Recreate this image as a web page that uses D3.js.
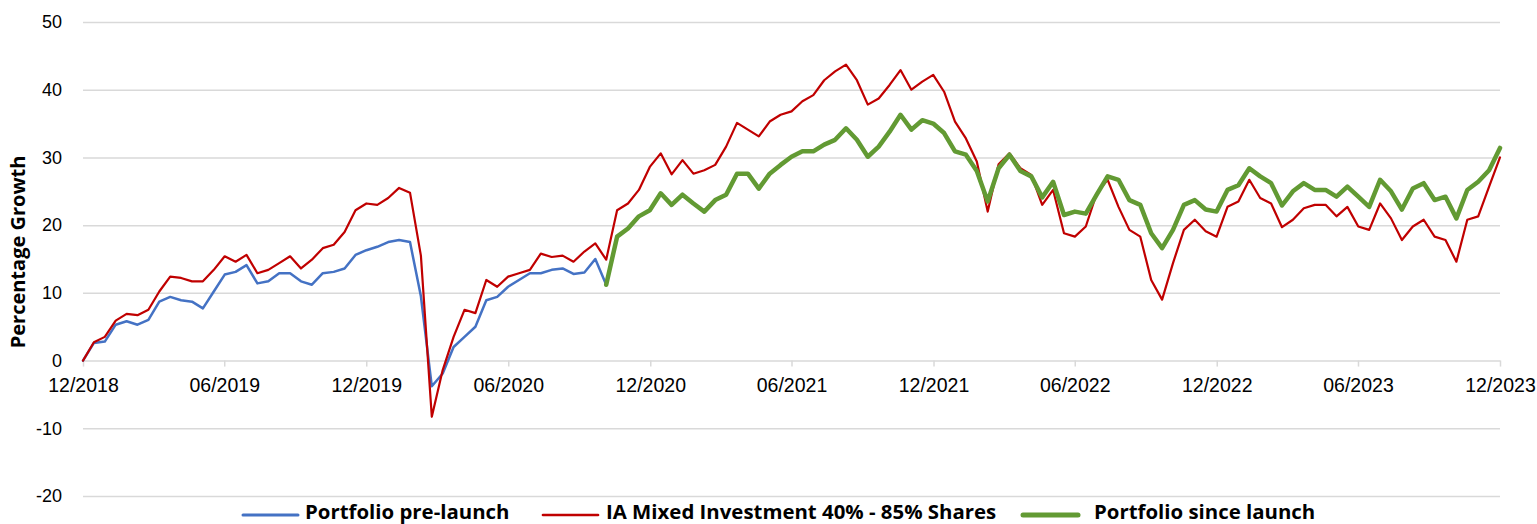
<!DOCTYPE html>
<html lang="en">
<head>
<meta charset="UTF-8">
<title>Percentage Growth</title>
<script src="https://d3js.org/d3.v7.min.js"></script>
<style>
  body { margin: 0; background: #fff; font-family: "Open Sans", sans-serif; }
  .grid line { stroke: #d9d9d9; stroke-width: 1.5; }
  .axis text { font-size: 18px; fill: #000; }
  .x-axis text { font-size: 19.5px; }
  .x-axis path, .x-axis line { stroke: #d9d9d9; stroke-width: 1.5; }
  .legend text { font-size: 20.4px; font-weight: bold; }
</style>
</head>
<body>
<svg id="chart" width="1537" height="524"></svg>
<script>
// x tick labels (every 6 months)
const xTickLabels = ["12/2018", "06/2019", "12/2019", "06/2020", "12/2020", "06/2021",
                     "12/2021", "06/2022", "12/2022", "06/2023", "12/2023"];
const yTicks = [-20, -10, 0, 10, 20, 30, 40, 50];

// fortnightly readings, 12/2018 -> 12/2023 (131 points)
const sectorValues = [
  0, 2.7, 3.5, 5.9, 6.9, 6.7, 7.5, 10.2, 12.4, 12.2,
  11.7, 11.7, 13.4, 15.4, 14.6, 15.6, 12.9, 13.4, 14.4, 15.4,
  13.6, 14.9, 16.6, 17.1, 19.0, 22.2, 23.2, 23.0, 24.0, 25.5,
  24.8, 15.5, -8.3, -1.4, 3.5, 7.5, 7.0, 11.9, 10.9, 12.4,
  12.9, 13.4, 15.8, 15.3, 15.5, 14.6, 16.1, 17.3, 14.9, 22.2,
  23.2, 25.2, 28.6, 30.6, 27.5, 29.6, 27.6, 28.1, 28.9, 31.6,
  35.1, 34.1, 33.1, 35.3, 36.3, 36.8, 38.3, 39.2, 41.4, 42.7,
  43.7, 41.4, 37.8, 38.7, 40.7, 42.9, 40.0, 41.2, 42.2, 39.7,
  35.3, 32.8, 29.4, 22.0, 29.0, 30.6, 28.4, 27.4, 23.0, 25.2,
  18.8, 18.3, 19.8, 24.7, 26.7, 22.7, 19.3, 18.3, 11.9, 9.0,
  14.4, 19.3, 20.8, 19.1, 18.3, 22.7, 23.5, 26.7, 24.0, 23.2,
  19.7, 20.8, 22.5, 23.0, 23.0, 21.3, 22.7, 19.8, 19.3, 23.2,
  21.0, 17.8, 19.8, 20.8, 18.3, 17.8, 14.6, 20.8, 21.3, 25.7,
  30.0
];

// portfolio before launch (points 0..48)
const preLaunchValues = [
  0, 2.6, 2.8, 5.3, 5.8, 5.3, 6.0, 8.7, 9.4, 8.9,
  8.7, 7.7, 10.2, 12.7, 13.1, 14.1, 11.4, 11.7, 12.9, 12.9,
  11.7, 11.2, 12.9, 13.1, 13.6, 15.6, 16.3, 16.8, 17.5, 17.8,
  17.5, 9.5, -3.8, -1.9, 2.0, 3.5, 5.0, 8.9, 9.4, 10.9,
  11.9, 12.9, 12.9, 13.4, 13.6, 12.8, 13.0, 15.0, 11.2
];

// portfolio since launch (points 48..130)
const launchIndex = 48;
const sinceLaunchValues = [
  11.2, 18.3, 19.5, 21.3, 22.2, 24.7, 23.0, 24.5, 23.2, 22.0,
  23.7, 24.5, 27.6, 27.6, 25.4, 27.6, 28.9, 30.1, 30.9, 30.9,
  31.9, 32.6, 34.3, 32.6, 30.1, 31.6, 33.8, 36.3, 34.1, 35.5,
  35.0, 33.6, 30.9, 30.4, 28.0, 23.5, 28.4, 30.4, 28.0, 27.2,
  24.1, 26.4, 21.5, 22.0, 21.7, 24.5, 27.2, 26.7, 23.7, 23.0,
  18.8, 16.6, 19.3, 23.0, 23.7, 22.3, 22.0, 25.2, 25.9, 28.4,
  27.2, 26.2, 22.9, 25.0, 26.2, 25.2, 25.2, 24.2, 25.7, 24.2,
  22.7, 26.7, 25.0, 22.3, 25.4, 26.2, 23.7, 24.2, 21.0, 25.2,
  26.4, 28.1, 31.4
];

const seriesNames = ["Portfolio pre-launch", "IA Mixed Investment 40% - 85% Shares", "Portfolio since launch"];
const seriesColors = ["#4472c4", "#c00000", "#629a33"];
const seriesWidths = [2.5, 2.2, 4.5];

// dates
const start = new Date(2018, 11, 1), end = new Date(2023, 11, 1);
const n = sectorValues.length;
const dateAt = i => new Date(start.getTime() + i * (end - start) / (n - 1));
const parseTick = d3.timeParse("%m/%Y");

// layout
const svg = d3.select("#chart");
const plotLeft = 83, plotRight = 1500, plotTop = 22, plotBottom = 496;

const x = d3.scaleTime().domain([start, end]).range([plotLeft, plotRight]);
const y = d3.scaleLinear().domain([-20, 50]).range([plotBottom, plotTop]);

// gridlines + y labels
const gy = svg.append("g")
  .attr("class", "grid axis")
  .attr("transform", `translate(${plotLeft},0)`)
  .call(d3.axisLeft(y).tickValues(yTicks).tickFormat(d => String(d))
    .tickSize(-(plotRight - plotLeft)).tickPadding(21));
gy.select(".domain").remove();
gy.selectAll(".tick").filter(d => d === 0).select("line").remove();

// x axis at zero
const gx = svg.append("g")
  .attr("class", "x-axis axis")
  .attr("transform", `translate(0,${y(0)})`)
  .call(d3.axisBottom(x)
    .tickValues(xTickLabels.map(parseTick))
    .tickFormat(d3.timeFormat("%m/%Y"))
    .tickSize(6).tickSizeOuter(0).tickPadding(12));

// y title
svg.append("text")
  .attr("transform", `translate(25,252) rotate(-90)`)
  .attr("text-anchor", "middle")
  .style("font-size", "20px").style("font-weight", "bold")
  .text("Percentage Growth");

const line = d3.line().x(d => x(d.date)).y(d => y(d.value));

const preData = preLaunchValues.map((v, i) => ({ date: dateAt(i), value: v }));
const sectorData = sectorValues.map((v, i) => ({ date: dateAt(i), value: v }));
const sinceData = sinceLaunchValues.map((v, i) => ({ date: dateAt(launchIndex + i), value: v }));

[[preData, 0], [sectorData, 1], [sinceData, 2]].forEach(([data, k]) => {
  svg.append("path")
    .datum(data)
    .attr("fill", "none")
    .attr("stroke", seriesColors[k])
    .attr("stroke-width", seriesWidths[k])
    .attr("stroke-linejoin", "round")
    .attr("stroke-linecap", "round")
    .attr("d", line);
});

// legend
const legendLineX = [243, 543, 1023];
const legendTextX = [305, 606, 1094];
const lg = svg.append("g").attr("class", "legend");
seriesNames.forEach((name, k) => {
  lg.append("line")
    .attr("x1", legendLineX[k]).attr("x2", legendLineX[k] + 55)
    .attr("y1", 515).attr("y2", 515)
    .attr("stroke", seriesColors[k])
    .attr("stroke-width", seriesWidths[k] + 0.5)
    .attr("stroke-linecap", "round");
  lg.append("text")
    .attr("x", legendTextX[k])
    .attr("y", 519)
    .text(name);
});
</script>
</body>
</html>
